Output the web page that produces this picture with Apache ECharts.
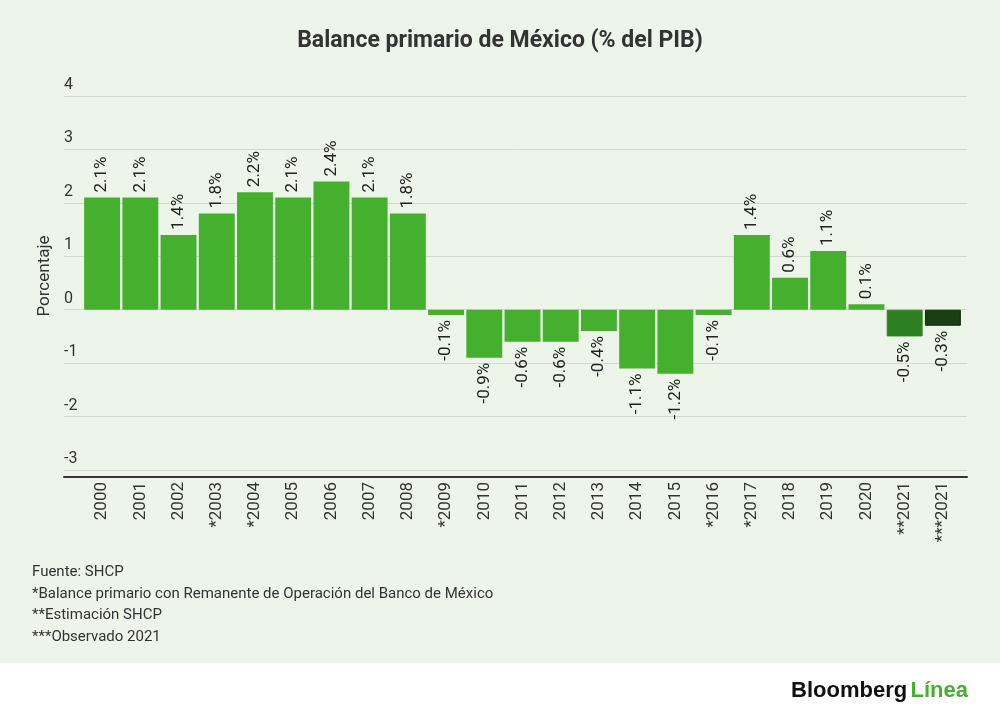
<!DOCTYPE html>
<html>
<head>
<meta charset="utf-8">
<script src="https://cdn.jsdelivr.net/npm/echarts@6/dist/echarts.min.js"></script>
<style>
html,body{margin:0;padding:0;}
#chart{width:1000px;height:722px;background:linear-gradient(#EDF5EA 0,#EDF5EA 663px,#ffffff 663px,#ffffff 722px);}
</style>
</head>
<body>
<div id="chart"></div>
<script>
const categories = ['2000','2001','2002','*2003','*2004','2005','2006','2007','2008','*2009','2010','2011','2012','2013','2014','2015','*2016','*2017','2018','2019','2020','**2021','***2021'];
const values = [2.1,2.1,1.4,1.8,2.2,2.1,2.4,2.1,1.8,-0.1,-0.9,-0.6,-0.6,-0.4,-1.1,-1.2,-0.1,1.4,0.6,1.1,0.1,-0.5,-0.3];
const yTicks = { min: -3, max: 4, interval: 1 };
const footnotes = ['Fuente: SHCP','*Balance primario con Remanente de Operación del Banco de México','**Estimación SHCP','***Observado 2021'];

const baseColor = '#45B02E';
const specialColors = { '**2021': { fill: '#2E7F22', border: '#2A8A1E' }, '***2021': { fill: '#1B3F12', border: '#0E2A09' } };

const font = 'Roboto, "Noto Sans", sans-serif';

const barData = values.map((v, i) => {
  const c = specialColors[categories[i]];
  const neg = v < 0;
  return {
    value: v,
    itemStyle: c ? { color: c.fill, borderColor: c.border, borderWidth: 1 } : { color: baseColor },
    label: {
      show: true,
      position: neg ? 'bottom' : 'top',
      rotate: 90,
      align: neg ? 'right' : 'left',
      verticalAlign: 'middle',
      distance: 5,
      formatter: (p) => p.value.toFixed(1) + '%',
      fontSize: 17,
      fontFamily: font,
      color: '#222'
    }
  };
});

const chart = echarts.init(document.getElementById('chart'), null, { renderer: 'canvas' });
chart.setOption({
  backgroundColor: 'transparent',
  animation: false,
  title: {
    text: 'Balance primario de México (% del PIB)',
    left: 'center',
    top: 25,
    textStyle: { fontSize: 23, fontWeight: 'bold', color: '#333', fontFamily: font }
  },
  grid: [
    { left: 64, right: 33, top: 96, bottom: 252 },
    { left: 83, right: 38, top: 96, bottom: 252 }
  ],
  xAxis: [
    { type: 'value', gridIndex: 0, min: 0, max: 1, offset: 7,
      axisLine: { show: true, onZero: false, lineStyle: { color: '#333', width: 2 } },
      axisTick: { show: false }, axisLabel: { show: false }, splitLine: { show: false } },
    { type: 'category', gridIndex: 1, data: categories, offset: 7,
      axisLine: { show: false }, axisTick: { show: false },
      axisLabel: { rotate: 90, fontSize: 17, fontFamily: font, color: '#333', margin: 5, interval: 0 } }
  ],
  yAxis: [
    { type: 'value', gridIndex: 0, min: yTicks.min, max: yTicks.max, interval: yTicks.interval,
      name: 'Porcentaje', nameLocation: 'middle', nameGap: 8,
      nameTextStyle: { fontSize: 17, fontFamily: font, color: '#333', padding: [0, 0, 0, 14] },
      axisLine: { show: false }, axisTick: { show: false },
      axisLabel: { inside: true, verticalAlign: 'bottom', margin: 0, padding: [0, 0, 3, 0], fontSize: 16, fontFamily: font, color: '#333' },
      splitLine: { show: true, lineStyle: { color: '#D3D9D0', width: 1 } } },
    { type: 'value', gridIndex: 1, min: yTicks.min, max: yTicks.max, interval: yTicks.interval, show: false,
      splitLine: { show: false } }
  ],
  series: [{
    type: 'bar', xAxisIndex: 1, yAxisIndex: 1, data: barData, barCategoryGap: '6%'
  }],
  graphic: [
    ...footnotes.map((t, i) => ({
      type: 'text', left: 32, top: 565 + i * 21.5,
      style: { text: t, fontSize: 15, fontFamily: font, fill: '#333' }
    })),
    { type: 'text', right: 32, top: 680,
      style: {
        text: '{a|Bloomberg} {b|Línea}',
        rich: {
          a: { fontSize: 22, fontWeight: 'bold', fontFamily: '"Liberation Sans", Arial, sans-serif', fill: '#111', color: '#111' },
          b: { fontSize: 22, fontWeight: 'bold', fontFamily: '"Liberation Sans", Arial, sans-serif', fill: '#45B02E', color: '#45B02E' }
        }
      } }
  ]
});
</script>
</body>
</html>
